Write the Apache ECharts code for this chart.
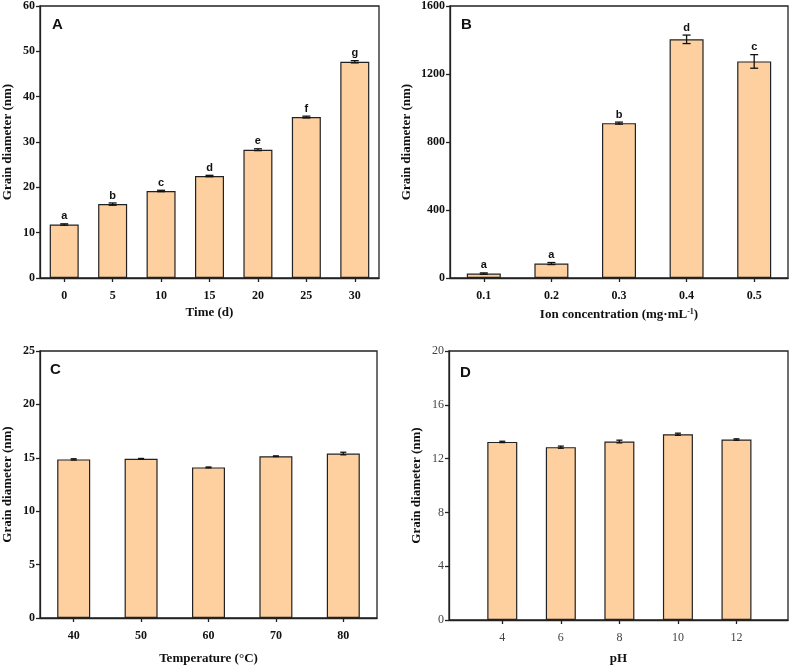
<!DOCTYPE html>
<html>
<head>
<meta charset="utf-8">
<script src="https://cdn.jsdelivr.net/npm/echarts@6/dist/echarts.min.js"></script>
<style>
html,body{margin:0;padding:0;background:#fff;}
#c{width:790px;height:666px;}
</style>
</head>
<body>
<div id="c"></div>
<script>
// Panel A
const timeCats = ['0','5','10','15','20','25','30'];
const timeVals = [11.8, 16.3, 19.2, 22.5, 28.3, 35.5, 47.7];
const timeErr = [0.15, 0.25, 0.15, 0.15, 0.2, 0.2, 0.25];
const timeLetters = ['a','b','c','d','e','f','g'];
// Panel B
const ionCats = ['0.1','0.2','0.3','0.4','0.5'];
const ionVals = [26, 85, 911, 1404, 1274];
const ionErr = [4, 6, 6, 25, 40];
const ionLetters = ['a','a','b','d','c'];
// Panel C
const tempCats = ['40','50','60','70','80'];
const tempVals = [14.85, 14.9, 14.1, 15.15, 15.4];
const tempErr = [0.06, 0.04, 0.04, 0.03, 0.12];
// Panel D
const phX = [4, 6, 8, 10, 12];
const phVals = [13.24, 12.85, 13.27, 13.81, 13.42];
const phErr = [0.05, 0.08, 0.1, 0.08, 0.05];

const chart = echarts.init(document.getElementById('c'));
const serif = '"Liberation Serif","Times New Roman",serif';
const sans = '"Liberation Sans",Arial,sans-serif';
const barColor = '#FFD09F';
const lineColor = '#222';

function yAxis(gi, max, interval, bold) {
  return {
    type: 'value', gridIndex: gi, min: 0, max: max, interval: interval,
    name: 'Grain diameter (nm)', nameLocation: 'middle', nameGap: 0,
    nameTextStyle: {fontFamily: serif, fontWeight: 'bold', fontSize: 13, color: '#111'},
    axisLine: {show: true, lineStyle: {color: lineColor, width: 1.3}},
    axisTick: {show: true, inside: false, length: 4, lineStyle: {color: lineColor, width: 1.3}},
    axisLabel: {fontFamily: serif, fontWeight: bold ? 'bold' : 'normal', fontSize: 12, color: bold ? '#111' : '#444', margin: 5,
      formatter: function (v) { return String(v); }},
    splitLine: {show: false}
  };
}
function xCat(gi, cats, name, gap) {
  return {
    type: 'category', gridIndex: gi, data: cats,
    name: name, nameLocation: 'middle', nameGap: gap,
    nameTextStyle: {fontFamily: serif, fontWeight: 'bold', fontSize: 13, color: '#111', rich: {
      b: {fontFamily: serif, fontWeight: 'bold', fontSize: 13, color: '#111'},
      sup: {fontFamily: serif, fontWeight: 'bold', fontSize: 8, color: '#111', verticalAlign: 'top', padding: [0,0,6,0]}
    }},
    axisLine: {show: true, lineStyle: {color: lineColor, width: 1.3}},
    axisTick: {show: true, alignWithLabel: true, inside: false, length: 4, lineStyle: {color: lineColor, width: 1.3}},
    axisLabel: {fontFamily: serif, fontWeight: 'bold', fontSize: 12, color: '#111', margin: 12}
  };
}
function errSeries(xi, yi, xs, vals, errs, letters, cap) {
  const data = vals.map((v, i) => [xs[i], v, errs[i], letters ? letters[i] : '']);
  return {
    type: 'custom', xAxisIndex: xi, yAxisIndex: yi, z: 5,
    data: data,
    renderItem: function (params, api) {
      const x = api.value(0), v = api.value(1), e = api.value(2);
      const top = api.coord([x, v + e]);
      const bot = api.coord([x, v - e]);
      const letter = data[params.dataIndex][3];
      const children = [
        {type: 'line', shape: {x1: top[0], y1: top[1], x2: bot[0], y2: bot[1]}, style: {stroke: '#111', lineWidth: 1.3}},
        {type: 'line', shape: {x1: top[0] - cap, y1: top[1], x2: top[0] + cap, y2: top[1]}, style: {stroke: '#111', lineWidth: 1.3}},
        {type: 'line', shape: {x1: bot[0] - cap, y1: bot[1], x2: bot[0] + cap, y2: bot[1]}, style: {stroke: '#111', lineWidth: 1.3}}
      ];
      if (letter) {
        children.push({type: 'text', style: {text: letter, x: top[0], y: top[1] - 2, align: 'center', verticalAlign: 'bottom',
          font: 'bold 11px ' + sans, fill: '#111'}});
      }
      return {type: 'group', children: children};
    }
  };
}
function barSeries(xi, yi, data, bw) {
  return {
    type: 'bar', xAxisIndex: xi, yAxisIndex: yi, data: data, barWidth: bw,
    itemStyle: {color: barColor, borderColor: lineColor, borderWidth: 1.2}
  };
}
const gridStyle = {show: true, borderColor: lineColor, borderWidth: 1.3, backgroundColor: 'transparent'};

const option = {
  animation: false,
  backgroundColor: '#fff',
  graphic: [
    {type: 'text', left: 52, top: 17, style: {text: 'A', font: 'bold 15px ' + sans, fill: '#111'}},
    {type: 'text', left: 461, top: 17, style: {text: 'B', font: 'bold 15px ' + sans, fill: '#111'}},
    {type: 'text', left: 50, top: 362, style: {text: 'C', font: 'bold 15px ' + sans, fill: '#111'}},
    {type: 'text', left: 460, top: 365, style: {text: 'D', font: 'bold 15px ' + sans, fill: '#111'}}
  ],
  grid: [
    Object.assign({left: 39, top: 5, width: 340, height: 273}, gridStyle),
    Object.assign({left: 450, top: 6, width: 338, height: 272}, gridStyle),
    Object.assign({left: 39, top: 351, width: 338, height: 272}, gridStyle),
    Object.assign({left: 449, top: 351, width: 339, height: 272}, gridStyle)
  ],
  xAxis: [
    xCat(0, timeCats, 'Time (d)', 28),
    xCat(1, ionCats, '{b|Ion concentration (mg·mL}{sup|-1}{b|)}', 30),
    xCat(2, tempCats, 'Temperature (°C)', 34),
    {
      type: 'value', gridIndex: 3, min: 2.18, max: 13.76,
      name: 'pH', nameLocation: 'middle', nameGap: 32,
      nameTextStyle: {fontFamily: serif, fontWeight: 'bold', fontSize: 13, color: '#111'},
      axisLine: {show: true, lineStyle: {color: lineColor, width: 1.3}},
      axisTick: {show: true, inside: false, length: 4, customValues: phX, lineStyle: {color: lineColor, width: 1.3}},
      axisLabel: {fontFamily: serif, fontSize: 12, color: '#444', margin: 12, customValues: phX},
      splitLine: {show: false}
    }
  ],
  yAxis: [
    Object.assign(yAxis(0, 60, 10, true), {nameGap: 26}),
    Object.assign(yAxis(1, 1600, 400, true), {nameGap: 37}),
    Object.assign(yAxis(2, 25, 5, true), {nameGap: 26}),
    Object.assign(yAxis(3, 20, 4, false), {nameGap: 26})
  ],
  series: [
    barSeries(0, 0, timeVals, 29),
    errSeries(0, 0, timeCats.map((c, i) => i), timeVals, timeErr, timeLetters, 4),
    barSeries(1, 1, ionVals, 34),
    errSeries(1, 1, ionCats.map((c, i) => i), ionVals, ionErr, ionLetters, 4),
    barSeries(2, 2, tempVals, 33),
    errSeries(2, 2, tempCats.map((c, i) => i), tempVals, tempErr, null, 3),
    barSeries(3, 3, phX.map((x, i) => [x, phVals[i]]), 30),
    errSeries(3, 3, phX, phVals, phErr, null, 3)
  ]
};
chart.setOption(option);
</script>
</body>
</html>
